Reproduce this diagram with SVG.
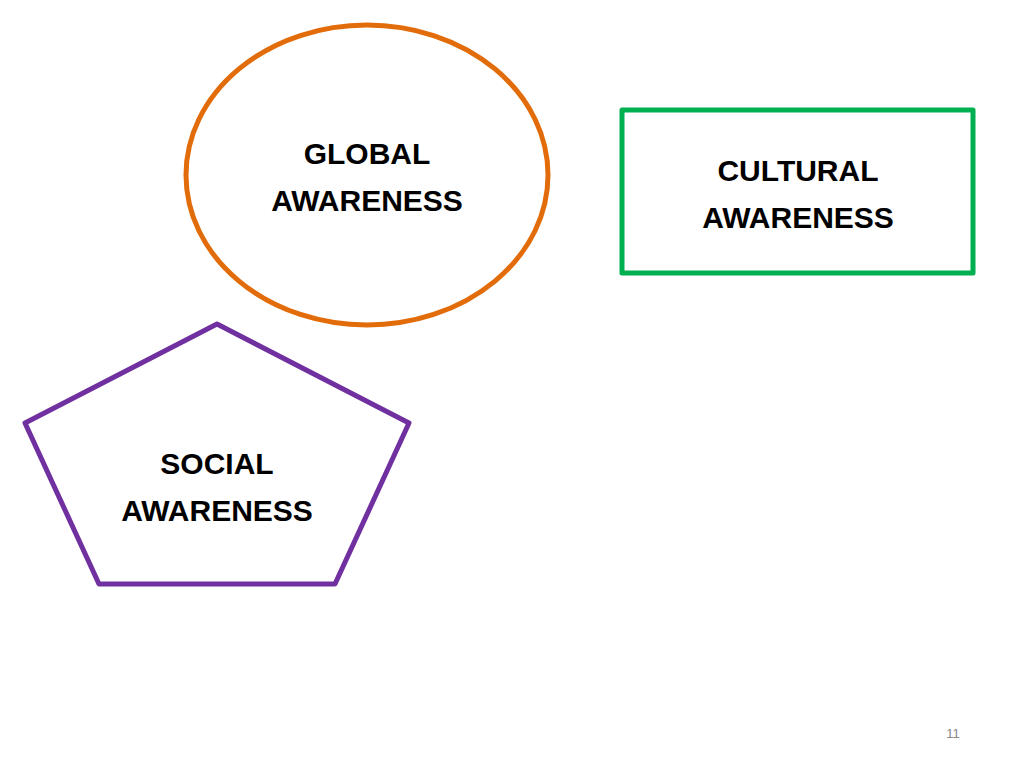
<svg xmlns="http://www.w3.org/2000/svg" width="1024" height="768" viewBox="0 0 1024 768">
<style>
.t{font-family:"Liberation Sans",Arial,sans-serif;font-weight:bold;font-size:30px;fill:#000;text-anchor:middle}
.s{fill:#fff;stroke-width:5;stroke-linejoin:round}
</style>
<rect width="1024" height="768" fill="#fff"/>
<g id="global"><ellipse class="s" cx="367" cy="175" rx="181" ry="150" stroke="#E36C0A"/>
<text class="t" x="367" y="164">GLOBAL</text><text class="t" x="367" y="211">AWARENESS</text></g>
<g id="cultural"><rect class="s" x="622" y="110" width="351" height="163" stroke="#00B050"/>
<text class="t" x="798" y="181">CULTURAL</text><text class="t" x="798" y="228">AWARENESS</text></g>
<g id="social"><polygon class="s" points="217,324 409,423 335,584 99,584 25,423" stroke="#7030A0"/>
<text class="t" x="217" y="474">SOCIAL</text><text class="t" x="217" y="521">AWARENESS</text></g>
<g id="connectors"/>
<text x="953" y="738" font-family="Liberation Sans,Arial,sans-serif" font-size="13" fill="#888" text-anchor="middle">11</text>
</svg>
